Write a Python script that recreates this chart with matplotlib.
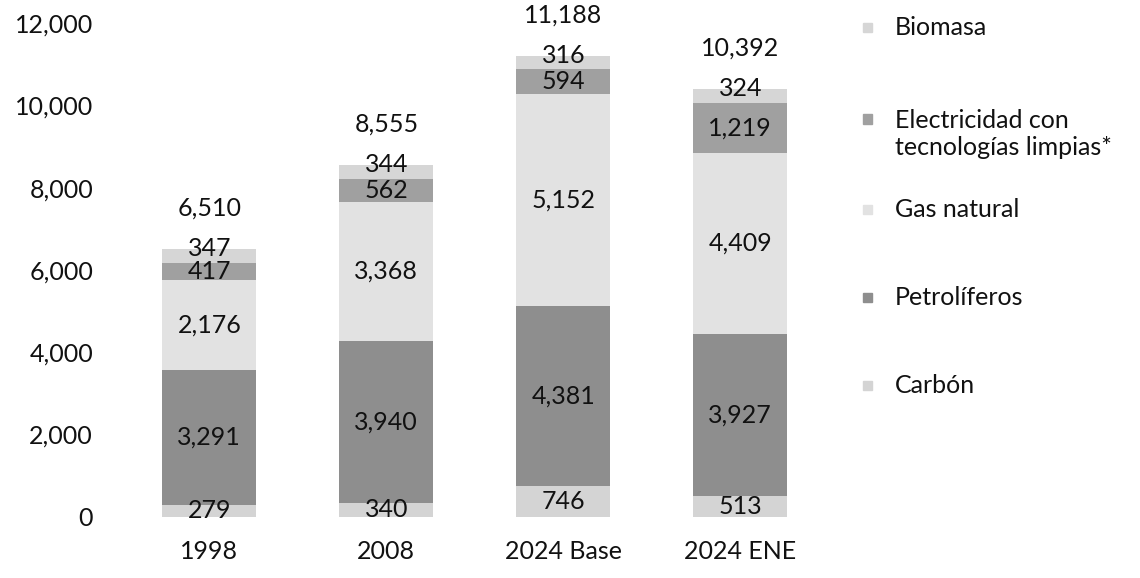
import matplotlib
matplotlib.use('Agg')
import matplotlib.pyplot as plt
import numpy as np

plt.rcParams['font.family'] = ['Lato', 'DejaVu Sans']

years = ['1998', '2008', '2024 Base', '2024 ENE']
fuels = ['Carbón', 'Petrolíferos', 'Gas natural',
         'Electricidad con\ntecnologías limpias*', 'Biomasa']
carbon = [279, 340, 746, 513]
petro = [3291, 3940, 4381, 3927]
gas = [2176, 3368, 5152, 4409]
elec = [417, 562, 594, 1219]
biomasa = [347, 344, 316, 324]
totals = [6510, 8555, 11188, 10392]
colors = ['#d4d4d4', '#8e8e8e', '#e2e2e2', '#a0a0a0', '#d6d6d6']

fs = 18
fig = plt.figure(figsize=(11.4, 5.78), dpi=100)
ax = fig.add_axes([0.106, 0.106, 0.621, 0.854])

x = np.arange(len(years))
bottom = np.zeros(len(years))
series = [carbon, petro, gas, elec, biomasa]
for k, (vals, c) in enumerate(zip(series, colors)):
    vals = np.array(vals)
    ax.bar(x, vals, 0.53, bottom=bottom, color=c, edgecolor='none')
    # top label sits a little higher, as in the original
    lift = 180 if k == len(series) - 1 else 0
    for xi, b, v in zip(x, bottom, vals):
        ax.text(xi, b + v / 2 + lift, f'{v:,}', ha='center', va='center',
                fontsize=fs, color='#111111')
    bottom += vals

for xi, t in zip(x, totals):
    ax.text(xi, t + 1000, f'{t:,}', ha='center', va='center', fontsize=fs,
            color='#111111', clip_on=False)

ax.set_xlim(-0.5, 3.5)
ax.set_ylim(0, 12000)
ax.set_yticks(np.arange(0, 12001, 2000))
ax.set_yticklabels([f'{v:,}' for v in range(0, 12001, 2000)])
ax.set_xticks(x)
ax.set_xticklabels(years)
ax.tick_params(length=0, labelsize=fs, labelcolor='#111111')
ax.tick_params(axis='y', pad=20)
ax.tick_params(axis='x', pad=17)
for s in ax.spines.values():
    s.set_visible(False)

# legend drawn by hand, top entry is the last series
leg_y = [0.952, 0.768, 0.637, 0.485, 0.333]
for name, c, yy in zip(fuels[::-1], colors[::-1], leg_y):
    first = 0.0 if '\n' not in name else 0.026
    fig.patches.append(plt.Rectangle((0.757, yy + first - 0.008), 0.008, 0.016,
                                     transform=fig.transFigure, color=c))
    fig.text(0.785, yy, name, fontsize=fs, va='center', ha='left', color='#111111',
             linespacing=1.25)

fig.savefig('out.png', dpi=100)
